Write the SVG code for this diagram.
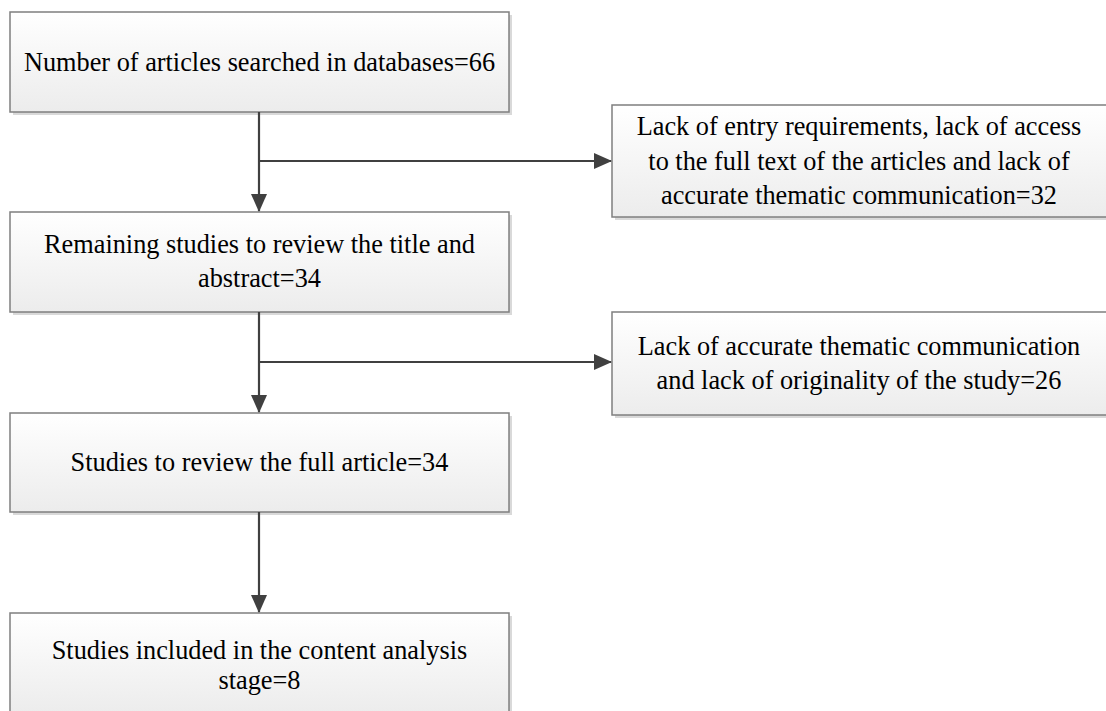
<svg xmlns="http://www.w3.org/2000/svg" width="1106" height="711" viewBox="0 0 1106 711">
<defs>
<linearGradient id="g" x1="0" y1="0" x2="0" y2="1">
<stop offset="0" stop-color="#ffffff"/>
<stop offset="1" stop-color="#ececec"/>
</linearGradient>
<marker id="ah" markerWidth="18" markerHeight="16" viewBox="0 0 18 16" refX="17" refY="8" orient="auto" markerUnits="userSpaceOnUse">
<path d="M0,0 L18,8 L0,16 Z" fill="#404040"/>
</marker>
</defs>
<style>
.box{fill:url(#g);stroke:#7f7f7f;stroke-width:1.5}
.sh{fill:#d9d9d9}
.t{font-family:"Liberation Serif","Times New Roman",serif;font-size:26.3px;fill:#000;text-anchor:middle}
.c{fill:none;stroke:#404040;stroke-width:2.2}
</style>
<rect width="1106" height="711" fill="#ffffff"/>
<g id="n1">
<rect class="sh" x="13" y="15" width="499" height="100"/>
<rect class="box" x="10" y="12" width="499" height="100"/>
<text class="t" x="259.5" y="71">Number of articles searched in databases=66</text>
</g>
<g id="n2">
<rect class="sh" x="13" y="215" width="499" height="100"/>
<rect class="box" x="10" y="212" width="499" height="100"/>
<text class="t" x="259.5" y="253">Remaining studies to review the title and</text>
<text class="t" x="259.5" y="287">abstract=34</text>
</g>
<g id="n3">
<rect class="sh" x="13" y="416" width="499" height="99"/>
<rect class="box" x="10" y="413" width="499" height="99"/>
<text class="t" x="259.5" y="471">Studies to review the full article=34</text>
</g>
<g id="n4">
<rect class="sh" x="13" y="616" width="499" height="100"/>
<rect class="box" x="10" y="613" width="499" height="100"/>
<text class="t" x="259.5" y="659">Studies included in the content analysis</text>
<text class="t" x="259.5" y="689">stage=8</text>
</g>
<g id="r1">
<rect class="sh" x="615" y="108" width="500" height="112"/>
<rect class="box" x="612" y="105" width="500" height="112"/>
<text class="t" x="859" y="135">Lack of entry requirements, lack of access</text>
<text class="t" x="859" y="170">to the full text of the articles and lack of</text>
<text class="t" x="859" y="204">accurate thematic communication=32</text>
</g>
<g id="r2">
<rect class="sh" x="615" y="315" width="500" height="103"/>
<rect class="box" x="612" y="312" width="500" height="103"/>
<text class="t" x="859" y="355">Lack of accurate thematic communication</text>
<text class="t" x="859" y="389">and lack of originality of the study=26</text>
</g>
<g id="connectors">
<path class="c" d="M259,112 V211" marker-end="url(#ah)"/>
<path class="c" d="M259,161 H611" marker-end="url(#ah)"/>
<path class="c" d="M259,312 V412" marker-end="url(#ah)"/>
<path class="c" d="M259,362 H611" marker-end="url(#ah)"/>
<path class="c" d="M259,512 V612" marker-end="url(#ah)"/>
</g>
</svg>
